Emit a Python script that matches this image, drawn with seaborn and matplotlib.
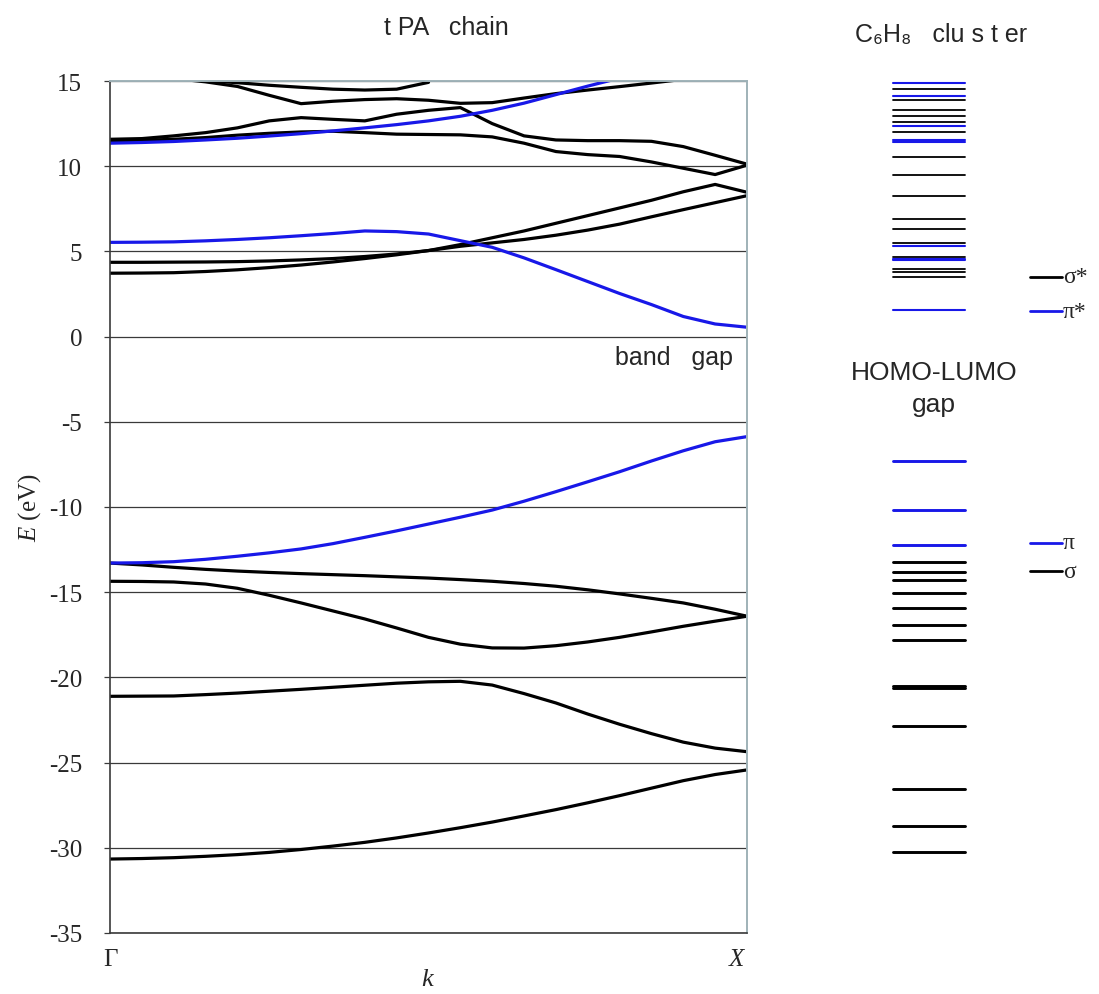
import numpy as np
import pandas as pd
import matplotlib
matplotlib.use("Agg")
import matplotlib.pyplot as plt
import seaborn as sns

# ---------------- data ----------------
K = [0.00, 0.05, 0.10, 0.15, 0.20, 0.25, 0.30, 0.35, 0.40, 0.45, 0.50,
     0.55, 0.60, 0.65, 0.70, 0.75, 0.80, 0.85, 0.90, 0.95, 1.00]
nan = np.nan

# sigma bands (black)
sig_1 = [-30.66, -30.63, -30.58, -30.50, -30.40, -30.27, -30.10, -29.90, -29.68, -29.42, -29.13,
         -28.82, -28.49, -28.13, -27.76, -27.36, -26.94, -26.50, -26.06, -25.70, -25.43]
sig_2 = [-21.11, -21.10, -21.09, -21.01, -20.92, -20.81, -20.70, -20.58, -20.46, -20.34, -20.26,
         -20.23, -20.45, -20.95, -21.50, -22.15, -22.75, -23.30, -23.80, -24.15, -24.36]
sig_3 = [-14.36, -14.37, -14.40, -14.52, -14.77, -15.18, -15.63, -16.10, -16.57, -17.10, -17.65,
         -18.05, -18.27, -18.28, -18.14, -17.92, -17.65, -17.33, -17.00, -16.70, -16.41]
sig_4 = [-13.29, -13.40, -13.54, -13.66, -13.76, -13.84, -13.91, -13.97, -14.03, -14.10, -14.17,
         -14.26, -14.36, -14.49, -14.65, -14.86, -15.10, -15.36, -15.63, -16.00, -16.41]
sig_5 = [3.72, 3.73, 3.75, 3.82, 3.92, 4.05, 4.20, 4.38, 4.58, 4.80, 5.05,
         5.40, 5.80, 6.20, 6.65, 7.10, 7.55, 8.00, 8.50, 8.93, 8.47]
sig_6 = [4.36, 4.36, 4.37, 4.38, 4.40, 4.44, 4.50, 4.58, 4.70, 4.85, 5.05,
         5.30, 5.50, 5.70, 5.95, 6.25, 6.60, 7.03, 7.45, 7.86, 8.27]
sig_7 = [11.58, 11.62, 11.78, 11.97, 12.25, 12.66, 12.85, 12.75, 12.66, 13.05, 13.28,
         13.44, 12.50, 11.78, 11.54, 11.50, 11.50, 11.46, 11.15, 10.64, 10.12]
sig_8 = [11.48, 11.52, 11.58, 11.68, 11.82, 11.93, 12.01, 12.05, 11.97, 11.88, 11.86,
         11.84, 11.72, 11.35, 10.86, 10.68, 10.57, 10.25, 9.88, 9.51, 10.06]
sig_9 = [nan, nan, 15.15, 14.95, 14.68, 14.16, 13.67, 13.81, 13.91, 13.96, 13.87,
         13.69, 13.73, 14.00, 14.26, 14.47, 14.67, 14.88, 15.10, nan, nan]
sig_10 = [nan, nan, 15.20, 15.02, 14.90, 14.75, 14.63, 14.52, 14.47, 14.52, 14.92,
          nan, nan, nan, nan, nan, nan, nan, nan, nan, nan]

# pi bands (blue)
pi_1 = [-13.29, -13.27, -13.21, -13.07, -12.89, -12.69, -12.46, -12.15, -11.78, -11.40, -11.00,
        -10.60, -10.18, -9.66, -9.10, -8.52, -7.93, -7.30, -6.70, -6.17, -5.87]
pi_2 = [5.53, 5.54, 5.56, 5.62, 5.70, 5.80, 5.92, 6.05, 6.20, 6.16, 6.02,
        5.63, 5.24, 4.62, 3.93, 3.23, 2.53, 1.88, 1.18, 0.74, 0.55]
pi_3 = [11.35, 11.39, 11.45, 11.54, 11.64, 11.77, 11.91, 12.07, 12.25, 12.44, 12.66,
        12.93, 13.28, 13.70, 14.20, 14.70, 15.17, nan, nan, nan, nan]

sigma_bands = [sig_1, sig_2, sig_3, sig_4, sig_5, sig_6, sig_7, sig_8, sig_9, sig_10]
pi_bands = [pi_1, pi_2, pi_3]

# C6H8 cluster levels
occ_pi = [-7.30, -10.18, -12.23]
occ_sigma = [-13.25, -13.80, -14.30, -15.06, -15.93, -16.90, -17.79,
             -20.50, -20.60, -22.87, -26.55, -28.70, -30.25]
unocc_pi = [14.88, 14.10, 12.38, 11.56, 11.40, 5.32, 4.58, 4.50, 1.58]
unocc_sigma = [14.53, 13.90, 13.32, 12.97, 12.61, 12.03, 10.52, 9.50, 8.23,
               6.90, 6.29, 5.51, 4.69, 3.94, 3.82, 3.52]

y_ticks = [-35, -30, -25, -20, -15, -10, -5, 0, 5, 10, 15]
x_tick_labels = ["Γ", "$X$"]

# ---------------- frame ----------------
rows = []
for i, b in enumerate(sigma_bands):
    for k, e in zip(K, b):
        rows.append(dict(k=k, E=e, band=f"s{i}", kind="sigma"))
for i, b in enumerate(pi_bands):
    for k, e in zip(K, b):
        rows.append(dict(k=k, E=e, band=f"p{i}", kind="pi"))
df = pd.DataFrame(rows).dropna()

BLUE = "#1818e8"
SANS = ["Liberation Sans", "DejaVu Sans"]
SERIF = ["Liberation Serif", "DejaVu Serif"]
sns.set_style("white")
plt.rcParams["font.family"] = SERIF
plt.rcParams["axes.unicode_minus"] = False
plt.rcParams["mathtext.fontset"] = "custom"
plt.rcParams["mathtext.rm"] = "Liberation Serif"
plt.rcParams["mathtext.it"] = "Liberation Serif:italic"

W, H = 1099, 995
fig = plt.figure(figsize=(W / 100, H / 100), dpi=100)
ax = fig.add_axes([110 / W, 1 - 934 / H, (747 - 110) / W, (934 - 82) / H])

sns.lineplot(data=df, x="k", y="E", units="band", hue="kind", estimator=None,
             palette={"sigma": "black", "pi": BLUE}, lw=2.3, legend=False, ax=ax,
             sort=False)
for ln in ax.lines:
    ln.set_solid_joinstyle("round")
    ln.set_solid_capstyle("round")

ax.set_xlim(0, 1)
ax.set_ylim(-35, 15)
ax.set_yticks(y_ticks)
ax.set_yticklabels([str(v) for v in y_ticks])
ax.set_xticks([0, 1])
ax.set_xticklabels(x_tick_labels)
ax.set_xlabel("")
ax.set_ylabel("")
ax.yaxis.grid(True, color="#3a3a3a", lw=0.9)
ax.set_axisbelow(True)
ax.tick_params(axis="y", which="major", direction="out", length=4, width=0.9,
               color="#3a3a3a", labelsize=18, pad=16, left=True)
ax.tick_params(axis="x", length=0, labelsize=18, pad=11)
for lab in ax.get_xticklabels():
    lab.set_fontfamily(SERIF)
ax.get_xticklabels()[0].set_horizontalalignment("center")
ax.get_xticklabels()[1].set_horizontalalignment("right")
for side in ("left", "bottom"):
    ax.spines[side].set_color("#3a3a3a")
    ax.spines[side].set_linewidth(1.2)
for side in ("top", "right"):
    ax.spines[side].set_color("#9fb2b8")
    ax.spines[side].set_linewidth(1.4)

ax.text(0.885, -1.2, "band   gap", ha="center", va="center", fontsize=18, family=SANS)

# ---------------- cluster levels ----------------
ax2 = fig.add_axes([770 / W, 1 - 934 / H, (W - 770) / W, (934 - 82) / H])
ax2.set_xlim(770, W)
ax2.set_ylim(-35, 15)
ax2.axis("off")

def levels(vals, color, lw):
    lc = ax2.hlines(vals, 893, 965, colors=color, lw=lw)
    lc.set_capstyle("round")

levels(unocc_sigma, "black", 1.3)
levels(unocc_pi, BLUE, 1.5)
levels(occ_sigma, "black", 2.1)
levels(occ_pi, BLUE, 2.1)

for y, col, lab in [(3.50, "black", "σ*"), (1.50, BLUE, "π*"),
                    (-12.11, BLUE, "π"), (-13.76, "black", "σ")]:
    ax2.plot([1030, 1062], [y, y], color=col, lw=2.0, solid_capstyle="round")
    ax2.text(1063, y, lab, ha="left", va="center", fontsize=17, family=SERIF)

ax2.text(934, -2.08, "HOMO-LUMO", ha="center", va="center", fontsize=19, family=SANS)
ax2.text(934, -3.96, "gap", ha="center", va="center", fontsize=19, family=SANS)

# ---------------- titles & labels ----------------
fig.text(446 / W, 1 - 28 / H, "t PA   chain", ha="center", va="center", fontsize=18,
         family=SANS)
fig.text(941 / W, 1 - 35 / H, "C₆H₈   clu s t er", ha="center", va="center", fontsize=18,
         family=SANS)
fig.text(30 / W, 1 - 508 / H, "$E$ (eV)", rotation=90, ha="center", va="center",
         fontsize=18)
fig.text(428 / W, 1 - 980 / H, "$k$", ha="center", va="center", fontsize=19)

fig.savefig("out.png", dpi=100)
